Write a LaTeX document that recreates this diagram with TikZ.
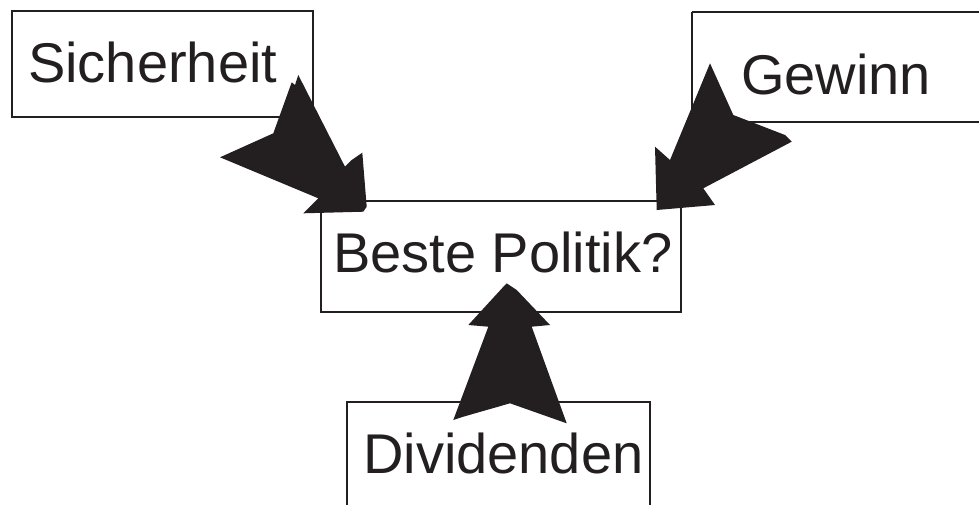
\documentclass[tikz,border=0pt]{standalone}
\usepackage{fontspec}
\setmainfont{Liberation Sans}
\definecolor{ink}{RGB}{35,31,32}
\begin{document}
\begin{tikzpicture}[x=1pt,y=-1pt,
  frame/.style={draw=ink,line width=2pt},
  label/.style={anchor=base west,inner sep=0pt,text=ink,font=\fontsize{56}{66}\selectfont},
  fatarrow/.style={fill=ink,draw=none}]
\useasboundingbox (0,0) rectangle (979,504);
% boxes
\draw[frame] (12,11) rectangle (313,117);
\draw[frame] (692,12) -- (985,12) (692,12) -- (692,122) -- (985,122);
\draw[frame] (321,201) rectangle (681,312);
\draw[frame] (347,515) -- (347,402) -- (650,402) -- (650,515);
% labels
\node[label] (sicher) at (28,82) {Sicherheit};
\node[label] (gewinn) at (741,94) {Gewinn};
\node[label] (beste) at (333,272) {Beste Politik?};
\node[label] (divid) at (363,473) {Dividenden};
% arrows into the centre box
\fill[fatarrow] (298.3,75) -- (345,166.7) -- (351.7,160) -- (362.3,152.7) -- (366.7,206.7)
  -- (363.3,211.7) -- (303.3,213.3) -- (318.3,198.3) -- (220,157.3) -- (273.3,133.3)
  -- (291.7,82.3) -- (295,85) -- cycle;
\fill[fatarrow] (710,63.3) -- (733.3,115) -- (785,135) -- (791.7,141.7) -- (703.3,188.3)
  -- (715,205) -- (656.7,210) -- (655,146.7) -- (670,160) -- cycle;
\fill[fatarrow] (506.7,283.3) -- (516.7,290) -- (550,325) -- (531.7,326.7) -- (566.7,423.3)
  -- (510,403.3) -- (463.3,416.7) -- (453.3,420) -- (488.3,326.7) -- (468.3,325)
  -- (505,285) -- cycle;
\end{tikzpicture}
\end{document}
